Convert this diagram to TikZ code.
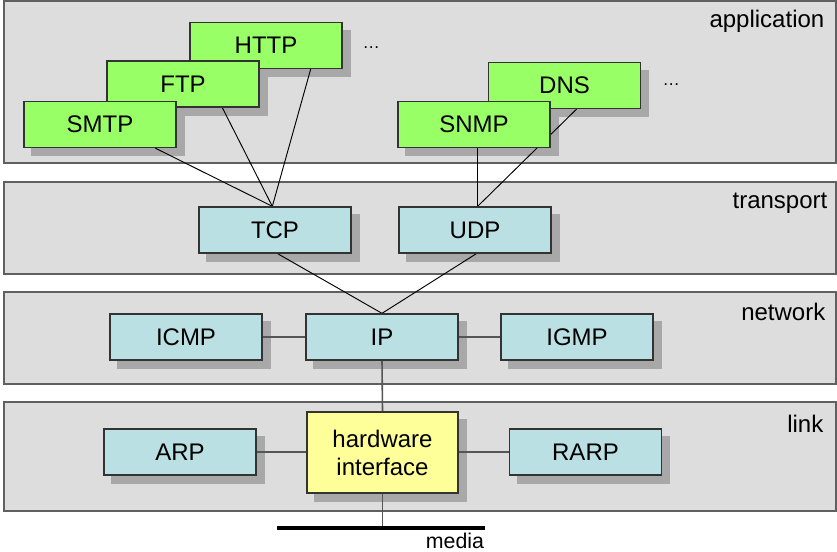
\documentclass[tikz,border=0pt]{standalone}
\usepackage{fontspec}
\setmainfont{Liberation Sans}
\usetikzlibrary{fit}

\definecolor{bandfill}{HTML}{DDDDDD}
\definecolor{bandedge}{HTML}{606060}
\definecolor{boxedge}{HTML}{333333}
\definecolor{appgreen}{HTML}{99FF66}
\definecolor{coreblue}{HTML}{BBE0E3}
\definecolor{ifaceyellow}{HTML}{FFFF99}
\definecolor{shadowgray}{HTML}{A8A8A8}
\definecolor{linkgray}{HTML}{555555}

\pgfdeclarelayer{bands}
\pgfdeclarelayer{shadows}
\pgfdeclarelayer{wires}
\pgfsetlayers{bands,shadows,wires,main}

% drop a flat grey shadow below and to the right of a node
\newcommand\castshadow[1]{%
  \fill[boxshadow] ([shift={(8,8)}]#1.south west) rectangle ([shift={(8,8)}]#1.north east);}

\begin{document}
\begin{tikzpicture}[x=0.75pt,y=-0.75pt,
  band/.style={draw=bandedge, fill=bandfill, line width=1.3pt, inner sep=0pt},
  lbl/.style={font=\fontsize{18}{21}\selectfont},
  proto/.style={draw=boxedge, line width=1pt, inner sep=0pt, align=center,
                minimum width=114pt, minimum height=34.5pt,
                font=\fontsize{18}{21}\selectfont},
  app/.style={proto, fill=appgreen},
  core/.style={proto, fill=coreblue},
  iface/.style={proto, fill=ifaceyellow, minimum width=113.25pt, minimum height=60.75pt},
  wire/.style={black, line width=0.7pt},
  link line/.style={draw=linkgray, line width=1.2pt},
  boxshadow/.style={fill=shadowgray},
  dots/.style={font=\fontsize{13}{15}\selectfont, anchor=base west},
]
\useasboundingbox (0,0) rectangle (837,552);

% layer bands
\begin{pgfonlayer}{bands}
  \node[band, fit={(4,1) (836,163)}]   (applayer) {};
  \node[band, fit={(4,182) (836,274)}] (tplayer)  {};
  \node[band, fit={(4,292) (836,384)}] (netlayer) {};
  \node[band, fit={(4,402) (836,511)}] (lnklayer) {};
\end{pgfonlayer}

\node[lbl, anchor=base east] (applbl) at (829,28)  {application};
\node[lbl, anchor=base east] (tplbl)  at (832,209) {transport};
\node[lbl, anchor=base east] (netlbl) at (830,320) {network};
\node[lbl, anchor=base east] (lnklbl) at (828,432) {link};

% application protocols (back to front)
\node[app] (http) at (266,45.5)  {HTTP};
\node[app] (ftp)  at (183,84)    {FTP};
\node[app] (smtp) at (100,124.5) {SMTP};
\node[app] (dns)  at (564.5,85.5) {DNS};
\node[app] (snmp) at (474,124.5) {SNMP};
\node[dots] (moreA) at (358,49) {\dots};
\node[dots] (moreB) at (658,86) {\dots};

% transport
\node[core] (tcp) at (275,230) {TCP};
\node[core] (udp) at (475,230) {UDP};

% network
\node[core] (icmp) at (186,337) {ICMP};
\node[core] (ip)   at (382,337) {IP};
\node[core] (igmp) at (577,337) {IGMP};

% link
\node[core]  (arp)  at (180,452)     {ARP};
\node[iface] (hw)   at (382.5,452.5) {hardware\\interface};
\node[core]  (rarp) at (585.5,452)   {RARP};

% media
\coordinate (mediaL) at (277,528);
\coordinate (mediaR) at (485,528);
\node[font=\fontsize{16}{18}\selectfont, anchor=base] (medialbl) at (455,548) {media};

\begin{pgfonlayer}{shadows}
  \foreach \n in {http,ftp,smtp,dns,snmp,tcp,udp,icmp,ip,igmp,arp,hw,rarp}
    {\castshadow{\n}}
\end{pgfonlayer}

\begin{pgfonlayer}{wires}
  \coordinate (tcptop) at ([xshift=-2pt]tcp.north);
  \coordinate (udptop) at ([xshift=2pt]udp.north);
  \draw[wire] ([xshift=-16pt]smtp.south east) -- (tcptop);
  \draw[wire] ([xshift=-28pt]ftp.south east) -- (tcptop);
  \draw[wire] ([xshift=-24pt]http.south east) -- (tcptop);
  \draw[wire] (snmp.south -| udptop) -- (udptop);
  \draw[wire] ([xshift=9pt]dns.south) -- (udptop);
  \draw[wire] ([xshift=2pt]tcp.south) -- (ip.north);
  \draw[wire] ([xshift=1pt]udp.south) -- (ip.north);
  \draw[link line] (icmp.east) -- (ip.west);
  \draw[link line] (ip.east) -- (igmp.west);
  \draw[link line] (ip.south) -- (hw.north);
  \draw[link line] (arp.east) -- (arp.east -| hw.west);
  \draw[link line] (rarp.west -| hw.east) -- (rarp.west);
  \draw[link line] (hw.south) -- (hw.south |- mediaL);
  \draw[black, line width=3pt] (mediaL) -- (mediaR);
\end{pgfonlayer}
\end{tikzpicture}
\end{document}
